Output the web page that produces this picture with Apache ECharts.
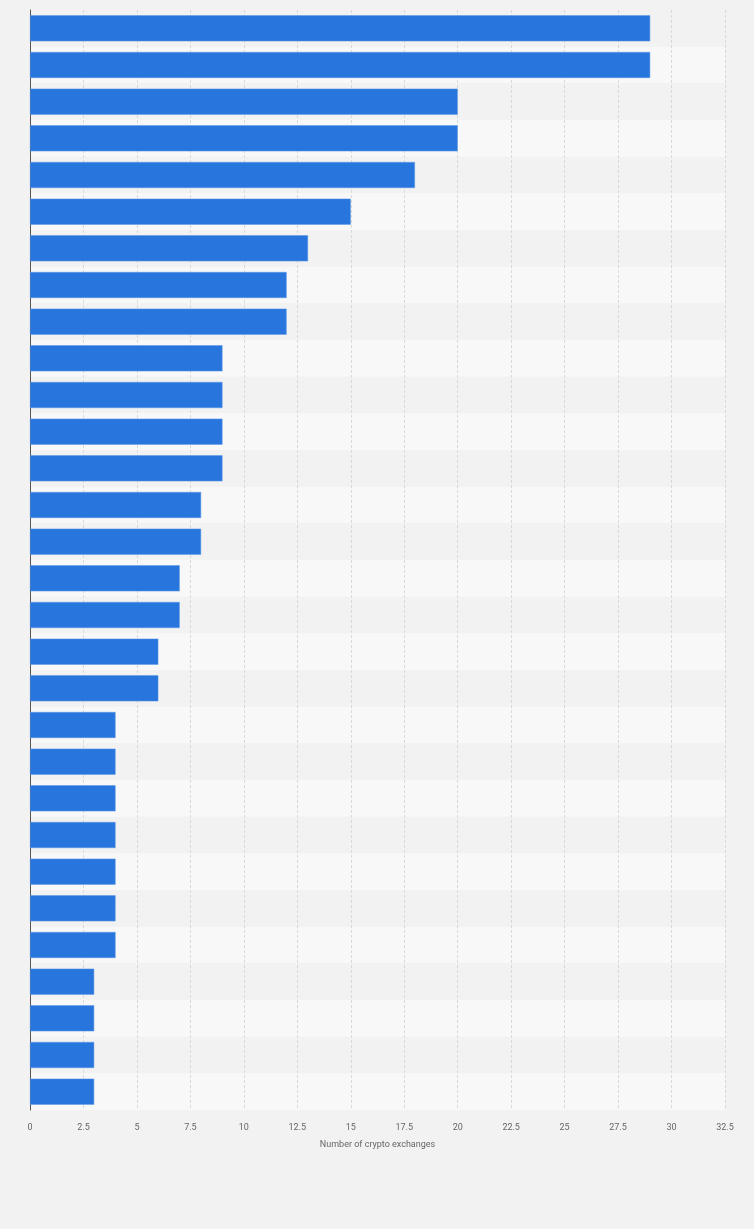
<!DOCTYPE html>
<html>
<head>
<meta charset="utf-8">
<script src="https://cdn.jsdelivr.net/npm/echarts@6/dist/echarts.min.js"></script>
<style>
html,body{margin:0;padding:0;background:#f2f2f2;}
#chart{width:754px;height:1229px;}
</style>
</head>
<body>
<div id="chart"></div>
<script>
var categories = ['C1','C2','C3','C4','C5','C6','C7','C8','C9','C10','C11','C12','C13','C14','C15','C16','C17','C18','C19','C20','C21','C22','C23','C24','C25','C26','C27','C28','C29','C30'];
var values = [29,29,20,20,18,15,13,12,12,9,9,9,9,8,8,7,7,6,6,4,4,4,4,4,4,4,3,3,3,3];
var xAxisName = 'Number of crypto exchanges';

var chart = echarts.init(document.getElementById('chart'));
chart.setOption({
  backgroundColor: '#f2f2f2',
  animation: false,
  grid: {left: 30, right: 29, top: 10, bottom: 119, containLabel: false},
  xAxis: {
    type: 'value',
    min: 0, max: 32.5, interval: 2.5,
    name: xAxisName,
    nameLocation: 'middle',
    nameGap: 30,
    nameTextStyle: {color: '#666', fontSize: 9, fontFamily: 'Roboto'},
    axisLine: {show: false},
    axisTick: {show: false},
    axisLabel: {color: '#666', fontSize: 9, fontFamily: 'Roboto', margin: 13},
    splitLine: {show: true, lineStyle: {color: '#d9d9d9', type: [3, 2], width: 1}}
  },
  yAxis: {
    type: 'category',
    data: categories,
    inverse: true,
    axisLabel: {show: false},
    axisTick: {show: false},
    axisLine: {show: true, lineStyle: {color: '#555', width: 1}},
    splitArea: {show: true, areaStyle: {color: ['#f2f2f2', '#f8f8f8']}}
  },
  series: [{
    type: 'bar',
    data: values,
    barCategoryGap: '29%',
    itemStyle: {color: '#2876dd', borderColor: '#5b97e6', borderWidth: 0.5}
  }]
});
</script>
</body>
</html>
